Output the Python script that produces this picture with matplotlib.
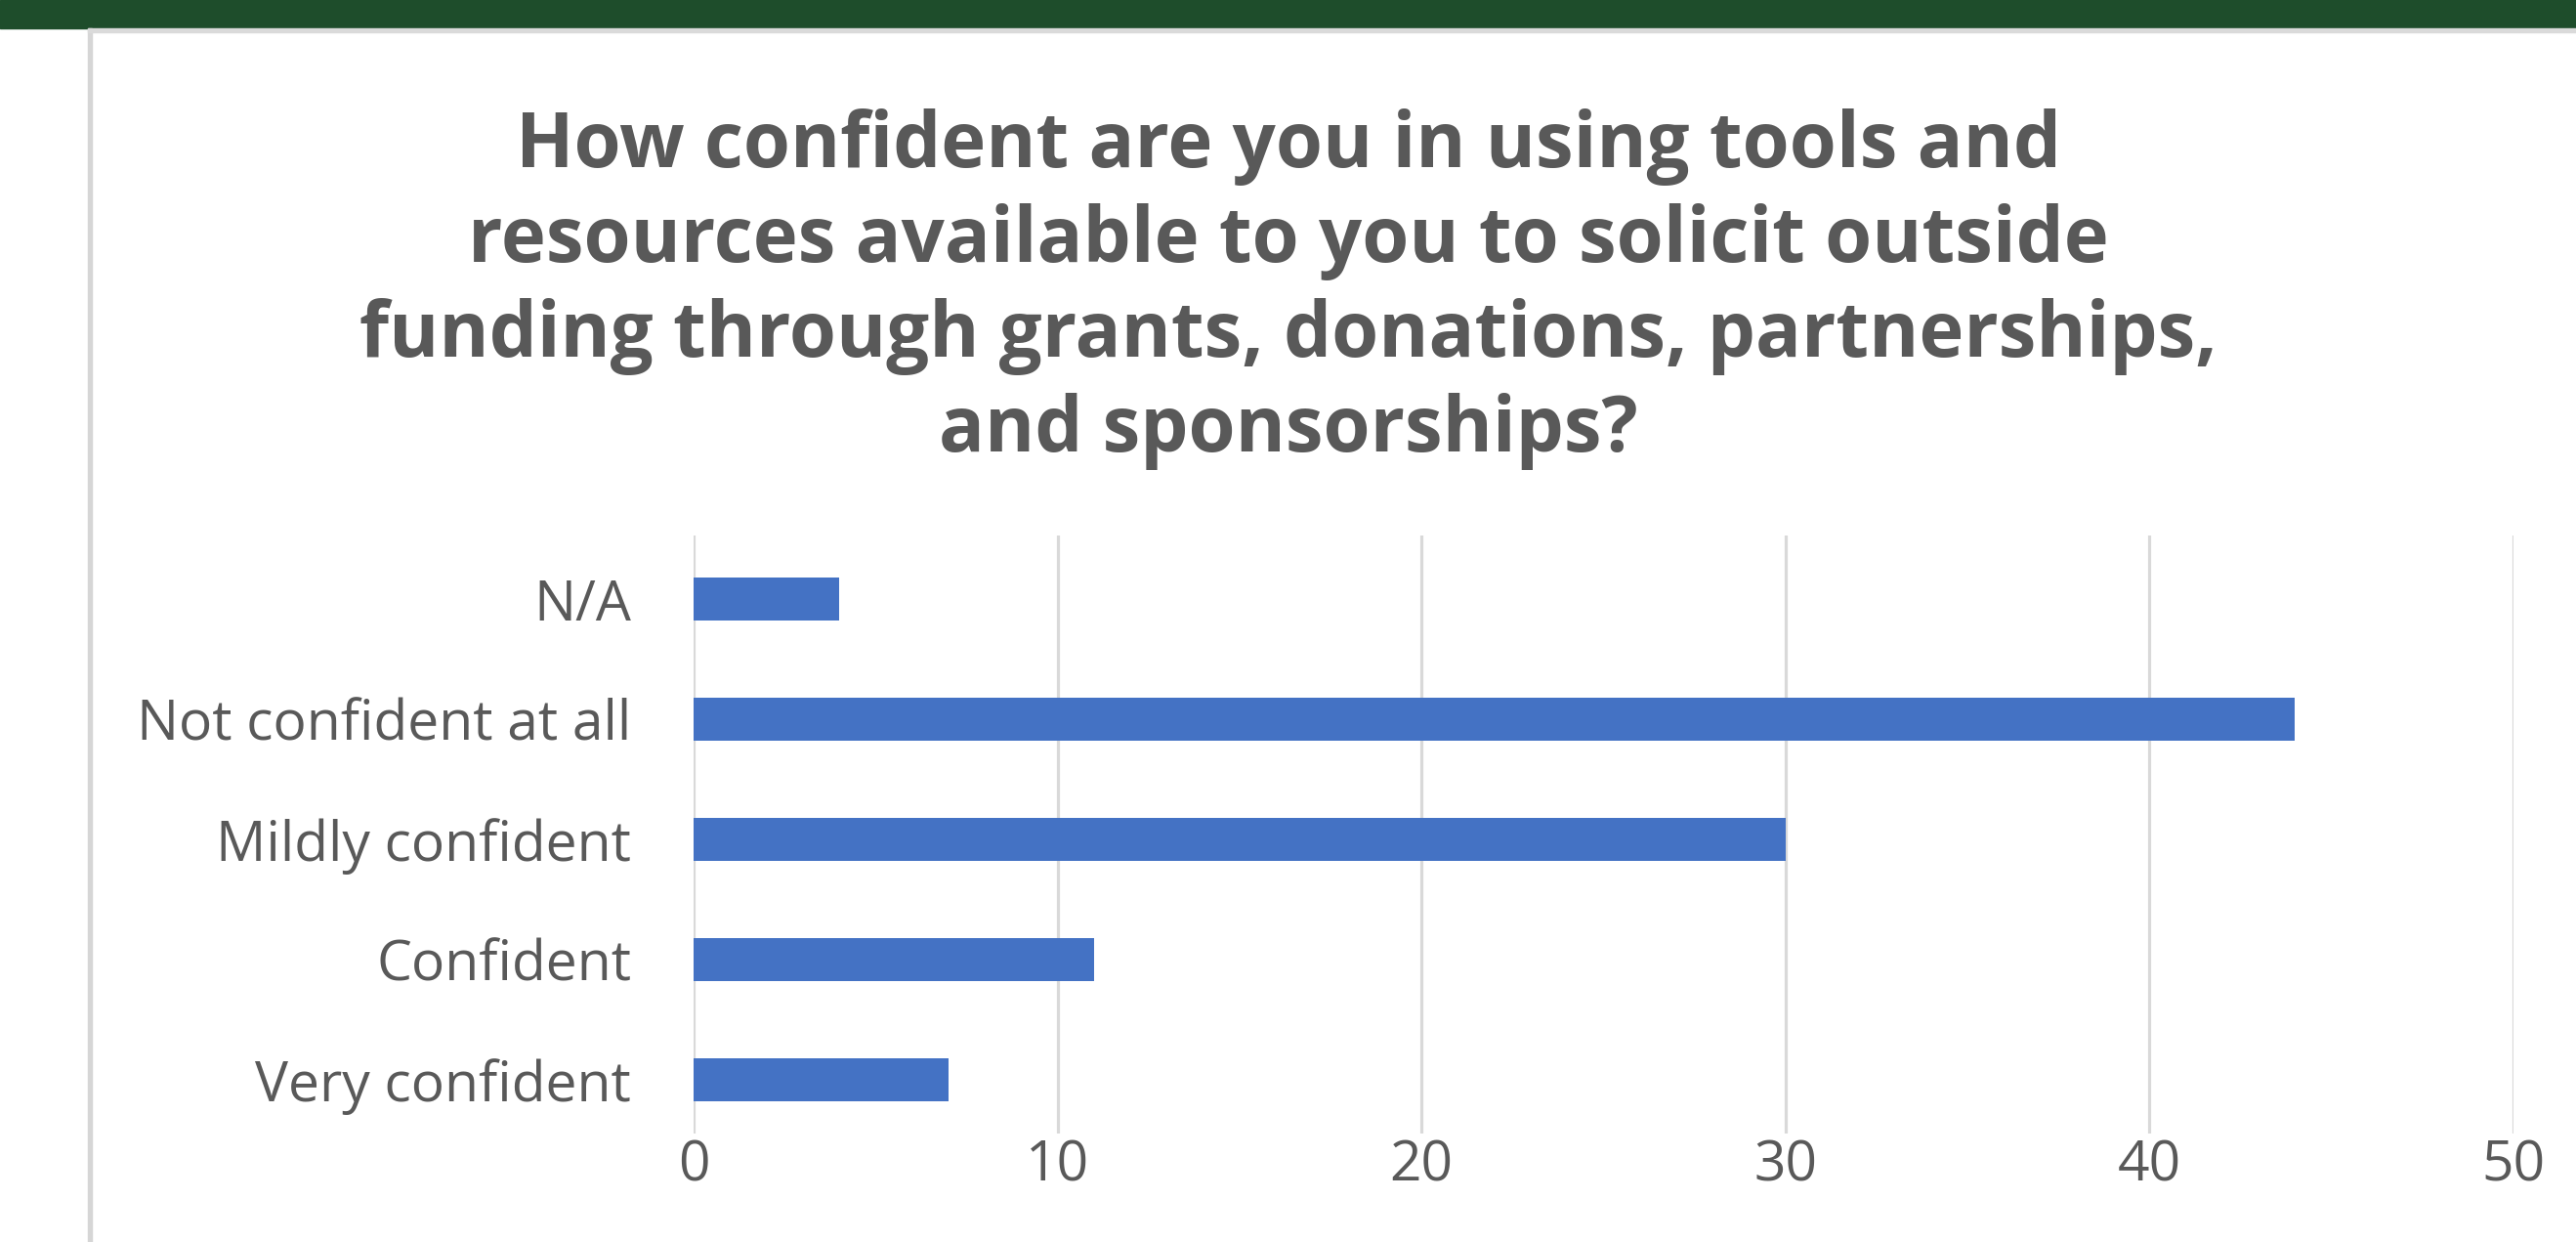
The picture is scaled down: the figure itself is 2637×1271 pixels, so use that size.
import matplotlib.pyplot as plt
from matplotlib.patches import Rectangle

# survey answers, top to bottom as shown
categories = ["N/A", "Not confident at all", "Mildly confident",
              "Confident", "Very confident"]
counts = [4, 44, 30, 11, 7]
x_ticks = [0, 10, 20, 30, 40, 50]

title = ("How confident are you in using tools and\n"
         "resources available to you to solicit outside\n"
         "funding through grants, donations, partnerships,\n"
         "and sponsorships?")

TEXT_GRAY = "#595959"
GRID_GRAY = "#D9D9D9"
BAR_BLUE = "#4472C4"
GREEN = "#1E4D2B"

plt.rcParams["font.family"] = ["Open Sans", "DejaVu Sans"]

W, H = 2637, 1271
fig = plt.figure(figsize=(W / 100, H / 100), dpi=100)

# slide decorations: green band on top, grey frame edges
fig.patches.append(Rectangle((0, 1 - 29 / H), 1, 29 / H, transform=fig.transFigure,
                             color=GREEN, zorder=0))
fig.patches.append(Rectangle((90 / W, 0), 4 / W, 1 - 29 / H, transform=fig.transFigure,
                             color="#D6D6D6", zorder=0))
fig.patches.append(Rectangle((90 / W, 1 - 33 / H), 1 - 90 / W, 4 / H,
                             transform=fig.transFigure, color="#DADADA", zorder=0))

ax = fig.add_axes([710 / W, 1 - 1160 / H, (2573 - 710) / W, (1160 - 548) / H])
ypos = list(range(len(categories)))
ax.barh(ypos, counts, height=0.36, color=BAR_BLUE, zorder=3)
ax.set_ylim(4.45, -0.53)
ax.set_xlim(0, 50)
ax.set_xticks(x_ticks)
ax.set_yticks(ypos)
ax.set_yticklabels(categories)
ax.xaxis.grid(True, color=GRID_GRAY, linewidth=2.3, zorder=0)
ax.set_axisbelow(True)
for s in ax.spines.values():
    s.set_visible(False)
ax.tick_params(axis="both", length=0, labelsize=41, labelcolor=TEXT_GRAY)
ax.tick_params(axis="y", pad=46)
ax.tick_params(axis="x", pad=4)

fig.text(0.5, 0.767, title, ha="center", va="center", fontsize=56,
         fontweight="bold", color=TEXT_GRAY, linespacing=1.3)

fig.savefig("out.png", dpi=100)
